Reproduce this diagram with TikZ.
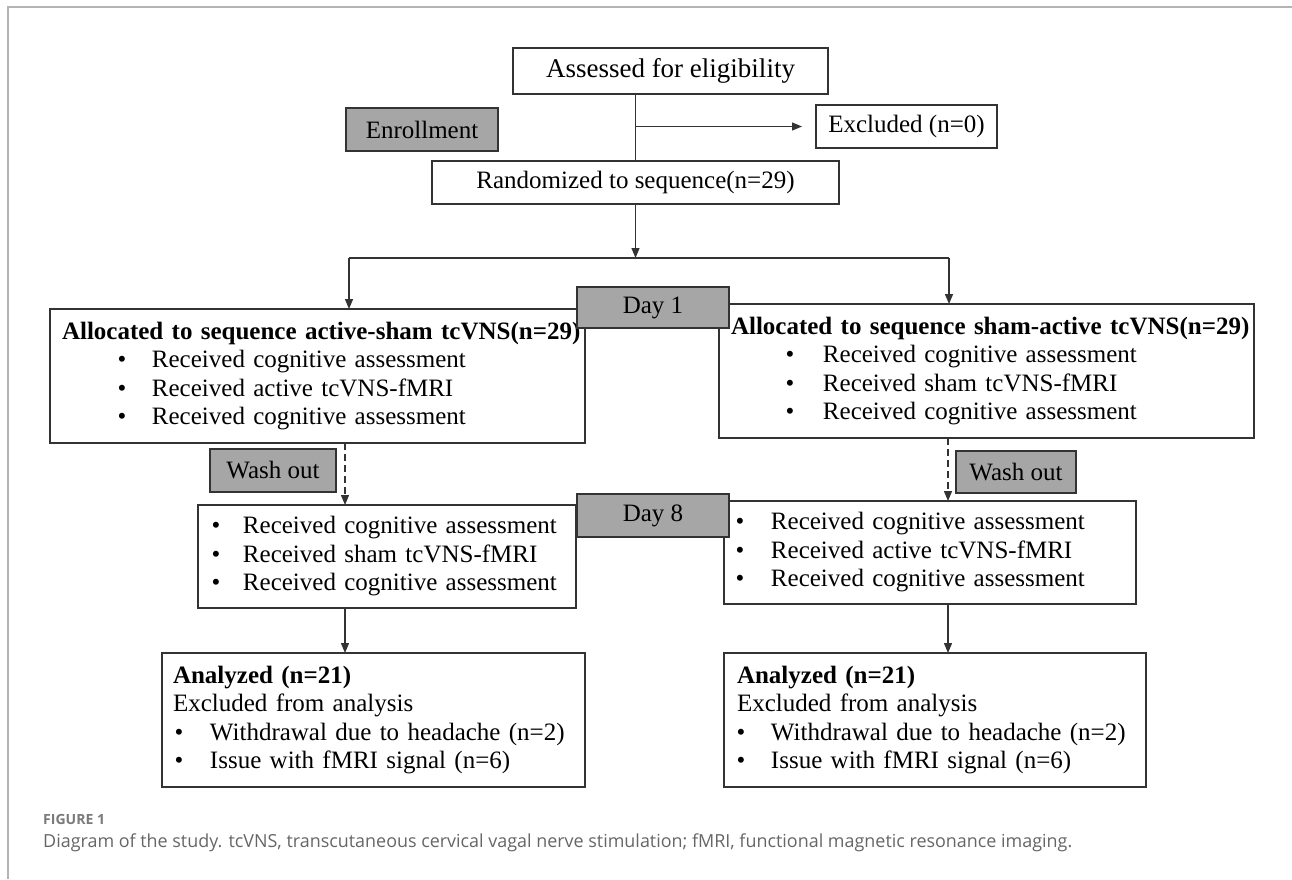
\documentclass[tikz,border=0pt]{standalone}
\usepackage{fontspec}
\setmainfont{Liberation Serif}
\newfontfamily\capfont{Open Sans}
\usepackage{graphicx}
\usetikzlibrary{arrows.meta}
\definecolor{boxgray}{HTML}{A6A6A6}
\definecolor{edge}{HTML}{333333}
\definecolor{capgray}{HTML}{666666}
\definecolor{figgray}{HTML}{7A7A7A}
\definecolor{framegray}{HTML}{B4B4B4}
\newcommand{\bitem}[3]{\mbox{\hspace*{#1}\makebox[0pt]{\textbullet}\hspace*{\dimexpr #2-#1\relax}#3}}
\newcommand{\bodyfont}{\fontsize{25}{28.5}\selectfont}
\begin{document}
\begin{tikzpicture}[x=1pt,y=-1pt,
  box/.style={draw=edge, line width=1.6pt, fill=white, inner ysep=0pt, outer sep=0pt, font=\bodyfont, anchor=north west},
  lbox/.style={box, align=left},
  cbox/.style={box, align=center, inner xsep=0pt},
  gbox/.style={cbox, fill=boxgray},
  conn/.style={draw=edge, line width=1.3pt},
  arr/.style={conn, -{Triangle[length=10pt,width=8pt]}},
  darr/.style={arr, dash pattern=on 7pt off 4pt},
]
\useasboundingbox (0,0) rectangle (1292,879);
\fill[white] (0,0) rectangle (1292,879);
\draw[framegray, line width=2pt] (8,879) -- (8,7) -- (1292,7);

% top part
\node[cbox, minimum width=315pt, minimum height=46pt, font=\fontsize{27}{30}\selectfont] (assess) at (513,48) {Assessed for eligibility};
\node[gbox, minimum width=152pt, minimum height=43pt] (enrol) at (346,108) {Enrollment};
\node[cbox, minimum width=181pt, minimum height=43pt] (excl) at (816,105) {Excluded (n=0)};
\node[cbox, minimum width=407pt, minimum height=43pt] (rand) at (432,161) {Randomized to sequence(n=29)};

% allocation boxes
\node[lbox, text width=511pt, inner xsep=12pt, minimum height=134pt] (aL) at (50,309)
 {\mbox{\textbf{Allocated to sequence active-sham tcVNS(n=29)}}\\
  \bitem{60pt}{90pt}{Received cognitive assessment}\\
  \bitem{60pt}{90pt}{Received active tcVNS-fMRI}\\
  \bitem{60pt}{90pt}{Received cognitive assessment}};
\node[lbox, text width=511pt, inner xsep=12pt, minimum height=134pt] (aR) at (719,304)
 {\mbox{\textbf{Allocated to sequence sham-active tcVNS(n=29)}}\\
  \bitem{59pt}{92pt}{Received cognitive assessment}\\
  \bitem{59pt}{92pt}{Received sham tcVNS-fMRI}\\
  \bitem{59pt}{92pt}{Received cognitive assessment}};
\node[gbox, minimum width=152pt, minimum height=41pt] (day1) at (577,287) {Day 1};

% day 8 boxes
\node[gbox, minimum width=126pt, minimum height=43pt] (washL) at (210,449) {Wash out};
\node[gbox, minimum width=120pt, minimum height=42pt] (washR) at (956,451) {Wash out};
\node[lbox, text width=362pt, inner xsep=8pt, minimum height=103pt] (dL) at (198,505)
 {\bitem{10pt}{37pt}{Received cognitive assessment}\\
  \bitem{10pt}{37pt}{Received sham tcVNS-fMRI}\\
  \bitem{10pt}{37pt}{Received cognitive assessment}};
\node[lbox, text width=396pt, inner xsep=8pt, minimum height=103pt] (dR) at (724,501)
 {\bitem{8pt}{39pt}{Received cognitive assessment}\\
  \bitem{8pt}{39pt}{Received active tcVNS-fMRI}\\
  \bitem{8pt}{39pt}{Received cognitive assessment}};
\node[gbox, minimum width=152pt, minimum height=43pt] (day8) at (577,494) {Day 8};

% analyzed boxes
\node[lbox, text width=401pt, inner xsep=11pt, minimum height=134pt] (nL) at (162,653)
 {\mbox{\textbf{Analyzed (n=21)}}\\
  \mbox{Excluded from analysis}\\
  \bitem{6pt}{37pt}{Withdrawal due to headache (n=2)}\\
  \bitem{6pt}{37pt}{Issue with fMRI signal (n=6)}};
\node[lbox, text width=396pt, inner xsep=13pt, minimum height=134pt] (nR) at (724,653)
 {\mbox{\textbf{Analyzed (n=21)}}\\
  \mbox{Excluded from analysis}\\
  \bitem{4pt}{34pt}{Withdrawal due to headache (n=2)}\\
  \bitem{4pt}{34pt}{Issue with fMRI signal (n=6)}};

% connectors
\coordinate (bl) at (349,258);
\coordinate (br) at (949,258);
\coordinate (colL) at (345,0);
\coordinate (colR) at (948,0);
\draw[conn] (rand.north |- assess.south) -- (rand.north);
\draw[arr, shorten >=14pt] (rand.north |- excl.west) -- (excl.west);
\draw[arr] (rand.south) -- (rand.south |- bl);
\draw[conn] (bl) -- (br);
\draw[arr] (bl) -- (bl |- aL.north);
\draw[arr] (br) -- (br |- aR.north);
\draw[darr] (aL.south -| colL) -- (dL.north -| colL);
\draw[darr] (aR.south -| colR) -- (dR.north -| colR);
\draw[arr] (dL.south -| colL) -- (nL.north -| colL);
\draw[arr] (dR.south -| colR) -- (nR.north -| colR);

% caption
\node[anchor=west, inner sep=0pt, text=figgray] (fig) at (43,819)
 {\resizebox{62pt}{\height}{\capfont\bfseries\fontsize{14}{16}\selectfont FIGURE 1}};
\node[anchor=west, inner sep=0pt, text=capgray] (cap) at (43,843)
 {\resizebox{1029pt}{\height}{\capfont\fontsize{18}{21}\selectfont Diagram of the study. tcVNS, transcutaneous cervical vagal nerve stimulation; fMRI, functional magnetic resonance imaging.}};
\end{tikzpicture}
\end{document}
